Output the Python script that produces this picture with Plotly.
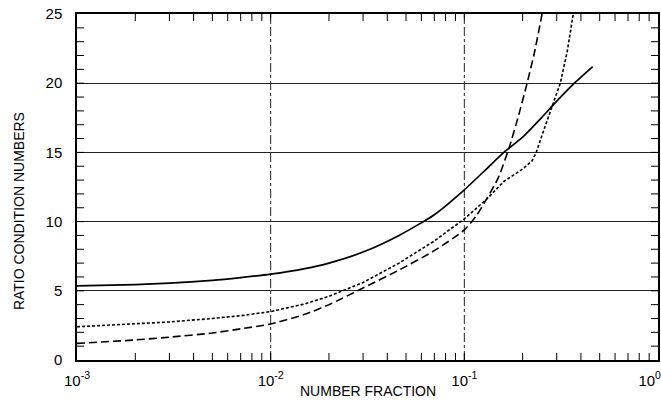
import plotly.graph_objects as go

# ---- data ----
x_solid = [0.001, 0.002, 0.003, 0.005, 0.007, 0.01, 0.015, 0.02, 0.03, 0.046, 0.07, 0.1, 0.13, 0.16, 0.2, 0.25, 0.3, 0.37, 0.46]
y_solid = [5.35, 5.45, 5.55, 5.75, 5.95, 6.2, 6.6, 7.0, 7.8, 9.0, 10.5, 12.3, 13.8, 15.0, 16.1, 17.5, 18.7, 20.0, 21.2]

x_dotted = [0.001, 0.002, 0.003, 0.005, 0.007, 0.01, 0.015, 0.02, 0.03, 0.046, 0.07, 0.1, 0.13, 0.16, 0.2, 0.224, 0.235, 0.26, 0.29, 0.313, 0.34, 0.365]
y_dotted = [2.4, 2.6, 2.75, 3.0, 3.2, 3.5, 4.05, 4.6, 5.6, 7.0, 8.6, 10.2, 11.6, 12.9, 13.8, 14.4, 15.0, 16.8, 18.6, 20.0, 22.3, 25.0]

x_dashed = [0.001, 0.002, 0.003, 0.005, 0.007, 0.01, 0.015, 0.02, 0.03, 0.046, 0.07, 0.1, 0.115, 0.13, 0.15, 0.17, 0.19, 0.21, 0.23, 0.252]
y_dashed = [1.2, 1.45, 1.65, 1.95, 2.25, 2.6, 3.3, 4.0, 5.2, 6.5, 7.9, 9.4, 10.4, 11.6, 13.2, 15.3, 17.6, 19.9, 22.2, 25.0]

x_tickvals = [0.001, 0.01, 0.1, 1]
x_ticktext = ["10<sup>-3</sup>", "10<sup>-2</sup>", "10<sup>-1</sup>", "10<sup>0</sup>\u00a0\u00a0\u00a0\u00a0"]
x_minor = [k * 10.0 ** e for e in (-3, -2, -1) for k in range(2, 10)]
x_grid = [0.01, 0.1]
y_tickvals = [0, 5, 10, 15, 20, 25]
y_minor = list(range(1, 25))

X_RANGE = [0.001, 1]
Y_RANGE = [0, 25]

FONT = "Liberation Sans, Arial, Helvetica, sans-serif"

fig = go.Figure()
fig.add_trace(go.Scatter(x=x_solid, y=y_solid, mode="lines",
                         line=dict(color="black", width=1.7, shape="spline", smoothing=0.6),
                         showlegend=False))
fig.add_trace(go.Scatter(x=x_dotted, y=y_dotted, mode="lines",
                         line=dict(color="black", width=1.6, dash="3px,2px"), showlegend=False))
fig.add_trace(go.Scatter(x=x_dashed, y=y_dashed, mode="lines",
                         line=dict(color="black", width=1.6, dash="8px,4px", shape="spline", smoothing=0.6),
                         showlegend=False))

# inside tick marks on all four frame sides (markers half-clipped at the frame)
xt = x_minor + x_grid
tick_marker_v = dict(symbol="line-ns", size=10, line=dict(width=1, color="black"))
tick_marker_h = dict(symbol="line-ew", size=10, line=dict(width=1, color="black"))
for yy in Y_RANGE:
    fig.add_trace(go.Scatter(x=xt, y=[yy] * len(xt), mode="markers", marker=tick_marker_v,
                             cliponaxis=True, hoverinfo="skip", showlegend=False))
for xx in X_RANGE:
    fig.add_trace(go.Scatter(x=[xx] * len(y_minor), y=y_minor, mode="markers", marker=tick_marker_h,
                             cliponaxis=True, hoverinfo="skip", showlegend=False))

fig.update_layout(
    width=661, height=403,
    margin=dict(l=77, r=3, t=14, b=43),
    paper_bgcolor="white", plot_bgcolor="white",
    font=dict(family=FONT, size=15, color="black"),
)

fig.update_xaxes(
    type="log", range=[-3, 0],
    tickmode="array", tickvals=x_tickvals, ticktext=x_ticktext,
    ticks="", automargin=False,
    showline=True, linecolor="black", linewidth=1.5, mirror=True,
    showgrid=False, zeroline=False, ticklabeloverflow="allow", ticklabelstandoff=6,
)
fig.update_yaxes(
    range=Y_RANGE,
    tickmode="array", tickvals=y_tickvals,
    ticks="", automargin=False,
    showline=True, linecolor="black", linewidth=1.5, mirror=True,
    showgrid=True, gridcolor="#222222", gridwidth=1,
    zeroline=False, ticklabelstandoff=10,
)

# dash-dot vertical grid lines at the inner decades
for v in x_grid:
    fig.add_shape(type="line", xref="x", yref="paper", x0=v, x1=v, y0=0, y1=1,
                  line=dict(color="#222222", width=1, dash="dashdot"), layer="below")

fig.add_annotation(text="RATIO CONDITION NUMBERS", xref="paper", yref="paper",
                   x=-0.1, y=0.43, textangle=-90, showarrow=False,
                   xanchor="center", yanchor="middle", font=dict(size=14))
fig.add_annotation(text="NUMBER FRACTION", xref="paper", yref="paper",
                   x=0.5, y=-0.09, showarrow=False,
                   xanchor="center", yanchor="middle", font=dict(size=14))

fig.write_html("out.html")
